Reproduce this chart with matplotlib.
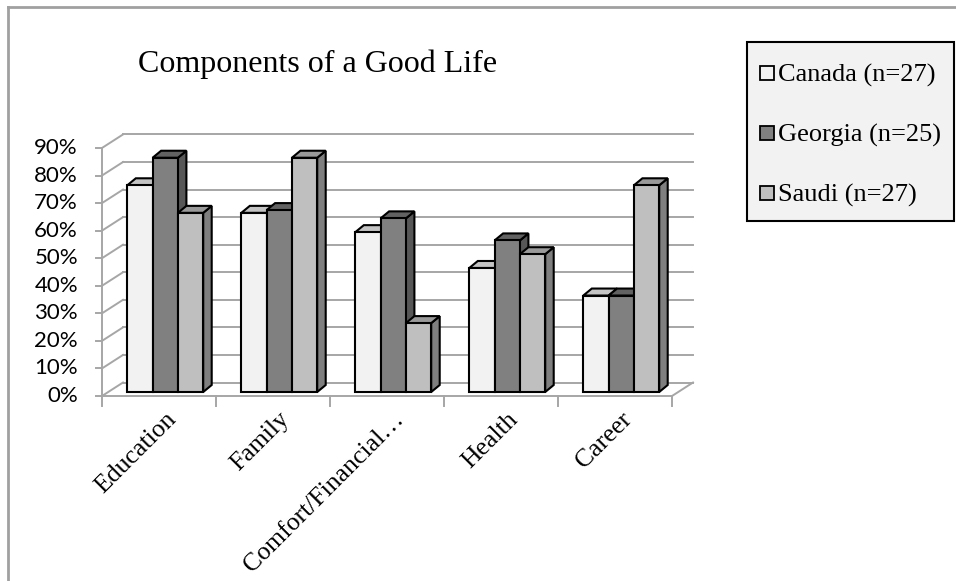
import matplotlib
matplotlib.use("Agg")
import matplotlib.pyplot as plt
from matplotlib.patches import Polygon, Rectangle
from matplotlib.lines import Line2D

# ---- data -------------------------------------------------------------
categories = ["Education", "Family", "Comfort/Financial\u2026", "Health", "Career"]
series_names = ["Canada (n=27)", "Georgia (n=25)", "Saudi (n=27)"]
canada = [75, 65, 58, 45, 35]
georgia = [85, 66, 63, 55, 35]
saudi = [65, 85, 25, 50, 75]
y_ticks = [0, 10, 20, 30, 40, 50, 60, 70, 80, 90]
title = "Components of a Good Life"

series_values = [canada, georgia, saudi]

# ---- styling ----------------------------------------------------------
front_colors = ["#f2f2f2", "#808080", "#bfbfbf"]
top_colors = ["#c4c4c4", "#626262", "#9a9a9a"]
side_colors = ["#a8a8a8", "#575757", "#7f7f7f"]
grid_color = "#a6a6a6"
serif = "Liberation Serif"
sans = "Lato"

W, H = 956, 581
fig = plt.figure(figsize=(W / 100, H / 100), dpi=100)
fig.patch.set_facecolor("white")

# axes spans the whole canvas; limits chosen so one category = 114 px
# and 10 % = 27.56 px, with the front floor edge at 102 px / 396 px
px_per_cat = 114.0
px_per_pct = 2.756
x0_px, y0_px = 102.0, 396.0
ax = fig.add_axes([0, 0, 1, 1])
ax.set_xlim(-x0_px / px_per_cat, (W - x0_px) / px_per_cat)
ax.set_ylim(-(H - y0_px) / px_per_pct, y0_px / px_per_pct)
ax.axis("off")

# projection of the floor depth and of a single bar's depth
depth_dx, depth_dy = 21 / px_per_cat, 13.5 / px_per_pct
bar_dx, bar_dy = 8.5 / px_per_cat, 7.0 / px_per_pct
bar_w = 25.3 / px_per_cat
bar_x_offset = 0.222
bar_base = 4.0 / px_per_pct
n_cat = len(categories)

lw_grid = 1.4
# back wall gridlines and side wall diagonals
for v in y_ticks:
    ax.add_line(Line2D([depth_dx, n_cat + depth_dx], [v + depth_dy, v + depth_dy],
                       color=grid_color, lw=lw_grid, zorder=1))
    ax.add_line(Line2D([0, depth_dx], [v, v + depth_dy],
                       color=grid_color, lw=lw_grid, zorder=1))
# floor
ax.add_line(Line2D([0, n_cat], [0, 0], color=grid_color, lw=lw_grid, zorder=1))
ax.add_line(Line2D([n_cat, n_cat + depth_dx], [0, depth_dy],
                   color=grid_color, lw=lw_grid, zorder=1))
# value axis
ax.add_line(Line2D([0, 0], [0, y_ticks[-1]], color=grid_color, lw=lw_grid, zorder=1))
tick_len = 6 / px_per_cat
for v in y_ticks:
    ax.add_line(Line2D([-tick_len, 0], [v, v], color=grid_color, lw=lw_grid, zorder=1))
    ax.text(-24 / px_per_cat, v, f"{v}%", ha="right", va="center",
            fontsize=16, family=sans, color="#000000")
# category axis ticks
cat_tick = 10 / px_per_pct
for i in range(n_cat + 1):
    ax.add_line(Line2D([i, i], [0, -cat_tick], color=grid_color, lw=lw_grid, zorder=1))
for i, name in enumerate(categories):
    ax.text(i + 0.55, -4.5, name, rotation=45, rotation_mode="anchor",
            ha="right", va="top", fontsize=18.5, family=serif)

# bars, drawn left to right so each front face overlaps its neighbour's side
z = 3
for i in range(n_cat):
    for s, vals in enumerate(series_values):
        x = i + bar_x_offset + s * bar_w
        y0 = bar_base
        y1 = bar_base + vals[i]
        side = [(x + bar_w, y0), (x + bar_w + bar_dx, y0 + bar_dy),
                (x + bar_w + bar_dx, y1 + bar_dy), (x + bar_w, y1)]
        top = [(x, y1), (x + bar_dx, y1 + bar_dy),
               (x + bar_w + bar_dx, y1 + bar_dy), (x + bar_w, y1)]
        front = [(x, y0), (x + bar_w, y0), (x + bar_w, y1), (x, y1)]
        for pts, col in ((side, side_colors[s]), (top, top_colors[s]),
                         (front, front_colors[s])):
            ax.add_patch(Polygon(pts, closed=True, facecolor=col,
                                 edgecolor="black", lw=1.5, joinstyle="miter",
                                 zorder=z))
            z += 1

# title
fig.text(318 / W, 1 - 64 / H, title, ha="center", va="center",
         fontsize=23, family=serif)

# legend box
def fx(px):
    return px / W

def fy(py):
    return 1 - py / H

fig.patches.append(Rectangle((fx(747), fy(221)), (954 - 747) / W, (221 - 42) / H,
                             transform=fig.transFigure, facecolor="#f2f2f2",
                             edgecolor="black", lw=1.5, zorder=5))
for s, name in enumerate(series_names):
    cy = 73 + 60 * s
    fig.patches.append(Rectangle((fx(760), fy(cy + 7)), 14 / W, 14 / H,
                                 transform=fig.transFigure,
                                 facecolor=front_colors[s], edgecolor="black",
                                 lw=1.3, zorder=6))
    fig.text(fx(778), fy(cy), name, ha="left", va="center_baseline",
             fontsize=19, family=serif, zorder=7)

# outer chart frame
fig.add_artist(Line2D([fx(8), fx(8)], [fy(7), 0], transform=fig.transFigure,
                      color="#a0a0a0", lw=2))
fig.add_artist(Line2D([fx(8), 1], [fy(7), fy(7)], transform=fig.transFigure,
                      color="#a0a0a0", lw=2))

fig.savefig("out.png", dpi=100, facecolor="white")
